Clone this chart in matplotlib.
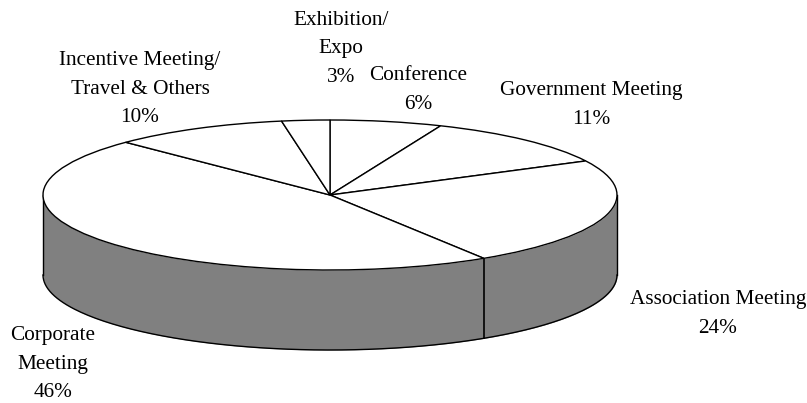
import numpy as np
import matplotlib
matplotlib.use("Agg")
import matplotlib.pyplot as plt

# slices, clockwise from 12 o'clock
# shares are estimates from the slice edges, the labels show them rounded
categories = ["Conference", "Government Meeting", "Association Meeting",
              "Corporate\nMeeting", "Incentive Meeting/\nTravel & Others", "Exhibition/\nExpo"]
shares = [6.3, 11.2, 23.5, 46.4, 9.9, 2.7]

plt.rcParams['font.family'] = ['Liberation Serif', 'DejaVu Serif']

W, H = 807, 403
CX, CY = 330, 195   # pie centre in px
RX, RY = 287, 75    # ellipse radii in px
DEPTH = 80 / RY     # wall height in y units

# label centres in px, same order as categories
label_pos = [(418, 90), (591, 105), (718, 314), (53, 364), (140, 89), (341, 49)]

fig = plt.figure(figsize=(W / 100, H / 100), dpi=100)
ax = fig.add_axes([0, 0, 1, 1])

# side wall, only the front half is visible
t = np.linspace(np.pi, 2 * np.pi, 200)
ax.fill_between(np.cos(t), np.sin(t), np.sin(t) - DEPTH, color="#808080", lw=0, zorder=1)
ax.plot(np.cos(t), np.sin(t) - DEPTH, color="black", lw=1, zorder=2)
ax.plot([-1, -1], [0, -DEPTH], color="black", lw=1, zorder=2)
ax.plot([1, 1], [0, -DEPTH], color="black", lw=1, zorder=2)

# top of the pie
ax.pie(shares, startangle=90, counterclock=False, radius=1, center=(0, 0),
       colors=["white"] * len(shares),
       wedgeprops=dict(edgecolor="black", linewidth=1, zorder=3), frame=True)
ax.set_aspect("auto")

# wall seam where the association slice ends
a = np.pi / 2 - 2 * np.pi * sum(shares[:3]) / sum(shares)
ax.plot([np.cos(a), np.cos(a)], [np.sin(a), np.sin(a) - DEPTH], color="black", lw=1.2, zorder=2)

ax.set_xlim(-CX / RX, (W - CX) / RX)
ax.set_ylim((CY - H) / RY, CY / RY)
ax.axis("off")

for name, share, (x, y) in zip(categories, shares, label_pos):
    ax.text(x / W, 1 - y / H, f"{name}\n{round(share)}%", transform=ax.transAxes,
            ha="center", va="center", fontsize=15.3, linespacing=1.7, color="black")

fig.savefig("out.png", dpi=100)
